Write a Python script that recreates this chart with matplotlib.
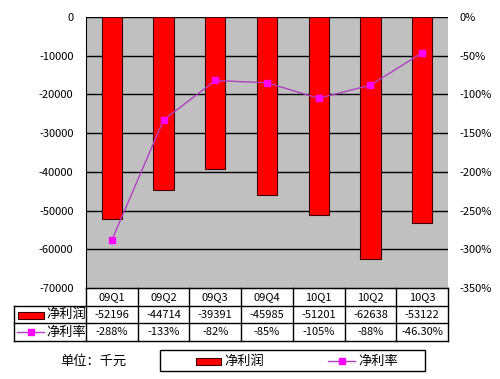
import numpy as np
import matplotlib.pyplot as plt
from matplotlib.patches import Rectangle
from matplotlib.ticker import FuncFormatter

plt.rcParams['font.family'] = ['Noto Sans CJK SC', 'DejaVu Sans']

# dati
quarters = ['09Q1', '09Q2', '09Q3', '09Q4', '10Q1', '10Q2', '10Q3']
net_profit = [-52196, -44714, -39391, -45985, -51201, -62638, -53122]
net_margin = [-288, -133, -82, -85, -105, -88, -46.3]
margin_labels = ['-288%', '-133%', '-82%', '-85%', '-105%', '-88%', '-46.30%']
profit_name = '净利润'
margin_name = '净利率'
unit_text = '单位：千元'

bar_color = '#ff0000'
line_color = '#b040c0'
marker_color = '#ff00ff'
fs = 8
fs_cn = 9.5

fig = plt.figure(figsize=(5, 3.79), dpi=100)

# area del grafico (in pixel: x 86-448, y 17-288)
W, H = 500, 379
ax = fig.add_axes([86 / W, 1 - 288 / H, (448 - 86) / W, (288 - 17) / H])
ax.set_facecolor('#c0c0c0')
x = np.arange(len(quarters))
ax.bar(x, net_profit, width=0.39, color=bar_color, edgecolor='#400000',
       linewidth=0.8, zorder=3)
ax.set_xlim(-0.5, len(quarters) - 0.5)
ax.set_ylim(-70000, 0)
ax.set_yticks(np.arange(-70000, 1, 10000))
ax.yaxis.set_major_formatter(FuncFormatter(lambda v, p: '%d' % v))
for yv in np.arange(-60000, 1, 10000):
    ax.axhline(yv, color='black', linewidth=1, zorder=1)
ax.set_xticks([])
ax.tick_params(axis='y', length=0, labelsize=fs, pad=9)
for s in ['top', 'right']:
    ax.spines[s].set_visible(False)
ax.spines['left'].set_color('black')
ax.spines['bottom'].set_color('black')

ax2 = ax.twinx()
ax2.plot(x, net_margin, color=line_color, linewidth=1, marker='s',
         markersize=4.5, markerfacecolor=marker_color,
         markeredgecolor=marker_color, zorder=4)
ax2.set_ylim(-350, 0)
ax2.set_yticks(np.arange(-350, 1, 50))
ax2.yaxis.set_major_formatter(FuncFormatter(lambda v, p: '%d%%' % v))
ax2.tick_params(axis='y', length=0, labelsize=fs, pad=8)
for s in ax2.spines.values():
    s.set_visible(False)

# tabella dati sotto il grafico
tab = fig.add_axes([0, 0, 1, 1], facecolor='none')
tab.set_xlim(0, W)
tab.set_ylim(H, 0)
tab.axis('off')
col_edges = [14, 86] + [86 + (448 - 86) * (i + 1) / len(quarters) for i in range(len(quarters))]
row_edges = [288, 306, 323, 341]
lw = 1
# linee orizzontali
tab.plot([86, 448], [row_edges[0]] * 2, color='black', lw=lw)
for yv in row_edges[1:]:
    tab.plot([14, 448], [yv, yv], color='black', lw=lw)
# linee verticali
tab.plot([14, 14], [row_edges[1], row_edges[3]], color='black', lw=lw)
for xv in col_edges[1:]:
    tab.plot([xv, xv], [row_edges[0], row_edges[3]], color='black', lw=lw)

for i in range(len(quarters)):
    cx = (col_edges[i + 1] + col_edges[i + 2]) / 2
    tab.text(cx, (row_edges[0] + row_edges[1]) / 2, quarters[i], ha='center', va='center', fontsize=fs)
    tab.text(cx, (row_edges[1] + row_edges[2]) / 2, '%d' % net_profit[i], ha='center', va='center', fontsize=fs)
    tab.text(cx, (row_edges[2] + row_edges[3]) / 2, margin_labels[i], ha='center', va='center', fontsize=fs)

# legenda nelle righe della tabella
tab.add_patch(Rectangle((18, 311.5), 26, 7, facecolor=bar_color, edgecolor='#400000', lw=0.8))
tab.text(46, 314.5, profit_name, ha='left', va='center', fontsize=fs_cn)
tab.plot([17, 44], [332, 332], color=line_color, lw=1)
tab.plot([30.5], [332], marker='s', markersize=4.5, color=marker_color)
tab.text(46, 332, margin_name, ha='left', va='center', fontsize=fs_cn)

# unità e legenda in basso
tab.text(93, 361, unit_text, ha='center', va='center', fontsize=fs_cn)
tab.add_patch(Rectangle((160, 350), 265, 21, facecolor='white', edgecolor='black', lw=1))
tab.add_patch(Rectangle((196, 357.5), 25, 7, facecolor=bar_color, edgecolor='#400000', lw=0.8))
tab.text(224, 361, profit_name, ha='left', va='center', fontsize=fs_cn)
tab.plot([328, 355], [361, 361], color=line_color, lw=1)
tab.plot([341.5], [361], marker='s', markersize=4.5, color=marker_color)
tab.text(358, 361, margin_name, ha='left', va='center', fontsize=fs_cn)

plt.savefig('out.png', dpi=100)
